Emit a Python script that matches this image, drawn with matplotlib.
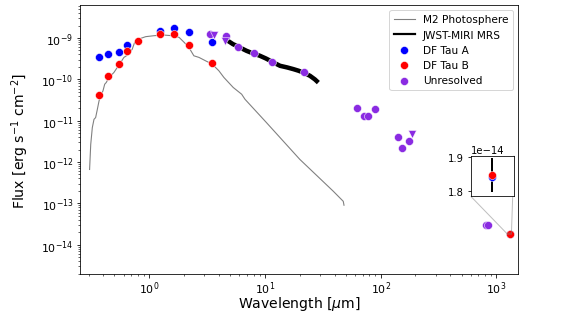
import matplotlib
matplotlib.use("Agg")
import matplotlib.pyplot as plt

# M2 photosphere model (wavelength in micron, flux in erg/s/cm2)
phot_wl = [0.305, 0.312, 0.322, 0.333, 0.344, 0.356, 0.368, 0.380, 0.398, 0.412,
           0.425, 0.440, 0.464, 0.495, 0.529, 0.566, 0.604, 0.668, 0.713, 0.748,
           0.815, 0.931, 1.10, 1.34, 1.58, 1.81, 2.0, 2.20, 2.43, 2.69,
           3.07, 3.50, 4.0, 4.42, 5.32, 6.29, 6.72, 10.3, 20.0, 38.9,
           47.5, 48.2]
phot_flux = [6.6e-13, 2.67e-12, 6.8e-12, 1.08e-11, 1.19e-11, 1.89e-11, 3.0e-11, 3.98e-11, 5.26e-11, 7.64e-11,
             8.4e-11, 1.01e-10, 1.22e-10, 1.47e-10, 1.94e-10, 2.57e-10, 3.4e-10, 4.1e-10, 5.4e-10, 7.9e-10,
             9.5e-10, 1.08e-9, 1.14e-9, 1.18e-9, 1.14e-9, 1.04e-9, 7.9e-10, 5.94e-10, 3.72e-10, 3.4e-10,
             2.81e-10, 2.34e-10, 1.61e-10, 1.11e-10, 6.36e-11, 4.37e-11, 3.3e-11, 9.0e-12, 1.16e-12, 1.97e-13,
             1.12e-13, 9.0e-14]

# JWST-MIRI MRS spectrum
miri_wl = [4.82, 5.0, 5.3, 5.69, 6.3, 6.94, 7.8, 9.05, 10.2, 11.4,
           12.4, 13.5, 15.5, 17.6, 19.5, 21.4, 23.0, 24.5, 26.0, 27.0, 28.0]
miri_flux = [8.45e-10, 7.9e-10, 7.1e-10, 6.5e-10, 5.6e-10, 4.9e-10, 4.3e-10, 3.72e-10, 3.2e-10, 2.72e-10,
             2.4e-10, 2.13e-10, 1.95e-10, 1.77e-10, 1.62e-10, 1.47e-10, 1.33e-10, 1.22e-10, 1.08e-10, 1.0e-10, 9.1e-11]

# resolved photometry
a_wl = [0.37, 0.44, 0.55, 0.645, 1.24, 1.63, 2.2, 3.46, 1300]
a_flux = [3.5e-10, 4.1e-10, 4.5e-10, 6.8e-10, 1.46e-9, 1.72e-9, 1.37e-9, 7.9e-10, 1.842e-14]
b_wl = [0.37, 0.44, 0.55, 0.645, 0.80, 1.24, 1.63, 2.2, 3.46, 1300]
b_flux = [4.1e-11, 1.2e-10, 2.4e-10, 4.9e-10, 8.6e-10, 1.27e-9, 1.23e-9, 6.9e-10, 2.5e-10, 1.848e-14]
b_err_mm = 0.05e-14

# unresolved photometry
u_wl = [3.35, 4.57, 5.8, 8.0, 11.5, 21.9, 62, 72, 78, 89, 142, 154, 176, 813, 841]
u_flux = [1.27e-9, 1.12e-9, 6.15e-10, 4.33e-10, 2.57e-10, 1.47e-10, 2.03e-11, 1.3e-11, 1.3e-11, 1.97e-11,
          4.1e-12, 2.2e-12, 3.3e-12, 2.94e-14, 2.94e-14]
# upper limits
ul_wl = [3.6, 4.5, 185]
ul_flux = [1.18e-9, 8.6e-10, 4.9e-12]

purple = "blueviolet"
S = 64

fig = plt.figure(figsize=(8, 4.4444), dpi=72)
ax = fig.add_axes([0.1394, 0.1406, 0.7599, 0.8406])

ax.plot(phot_wl, phot_flux, color="gray", lw=1.1, label="M2 Photosphere", zorder=1)
ax.plot(miri_wl, miri_flux, color="black", lw=4.5, label="JWST-MIRI MRS", zorder=2)
ax.scatter(a_wl, a_flux, s=S, color="blue", edgecolor="white", linewidth=0.5, label="DF Tau A", zorder=3)
ax.scatter(b_wl, b_flux, s=S, color="red", edgecolor="white", linewidth=0.5, label="DF Tau B", zorder=4)
ax.scatter(u_wl, u_flux, s=S, color=purple, edgecolor="white", linewidth=0.5, label="Unresolved", zorder=4)
ax.scatter(ul_wl, ul_flux, s=S, marker="v", color=purple, edgecolor="white", linewidth=0.5, zorder=4)

ax.set_xscale("log")
ax.set_yscale("log")
ax.set_xlim(0.2535, 1538)
ax.set_ylim(1.95e-15, 6.3e-9)
ax.set_xlabel(r"Wavelength [$\mu$m]", fontsize=14, labelpad=-2)
ax.set_ylabel(r"Flux [erg s$^{-1}$ cm$^{-2}$]", fontsize=14, labelpad=10)
ax.tick_params(labelsize=11)
ax.tick_params(axis="x", pad=2)
leg = ax.legend(loc="upper right", fontsize=10.5)
leg.legend_handles[1].set_linewidth(2.2)

# zoom on the mm point
axins = ax.inset_axes([0.892, 0.289, 0.099, 0.151])
axins.errorbar([b_wl[-1]], [b_flux[-1]], yerr=b_err_mm, color="black", lw=2, fmt="none", zorder=1)
axins.scatter([a_wl[-1]], [a_flux[-1]], s=S, color="blue", edgecolor="white", linewidth=0.5, zorder=2)
axins.scatter([b_wl[-1]], [b_flux[-1]], s=S, color="red", edgecolor="white", linewidth=0.5, zorder=3)
axins.set_xlim(1250, 1350)
axins.set_ylim(1.785e-14, 1.905e-14)
axins.set_xticks([])
axins.set_yticks([1.8e-14, 1.9e-14])
axins.tick_params(labelsize=10)
axins.yaxis.get_offset_text().set_fontsize(10)
ax.indicate_inset_zoom(axins, edgecolor="gray")

fig.savefig("out.png", dpi=72)
